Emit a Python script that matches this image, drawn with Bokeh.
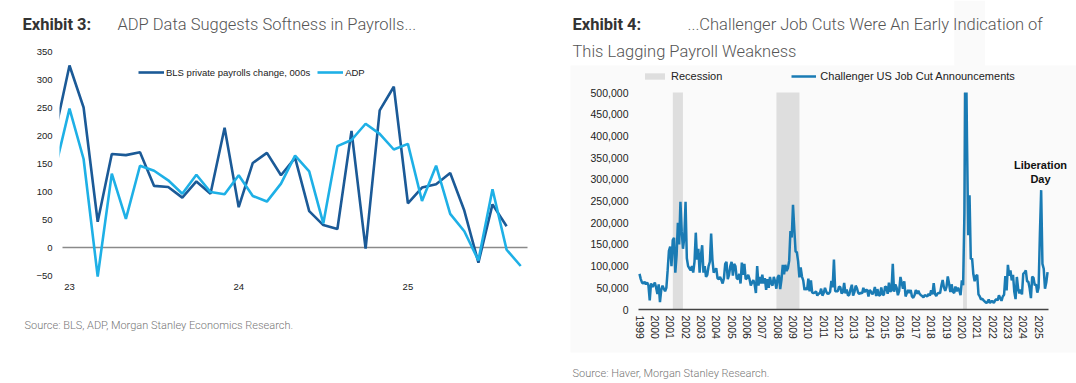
import numpy as np
from bokeh.plotting import figure
from bokeh.layouts import row
from bokeh.models import (Label, Legend, LegendItem, FixedTicker, BoxAnnotation,
                          NumeralTickFormatter, Range1d)
from bokeh.embed import file_html
from bokeh.resources import INLINE

# ---------------- Exhibit 3 data (000s, monthly; index 0 = Jan 2023) ----------------
bls_months = list(range(-1, 32))   # Dec 2022 .. Aug 2025
bls_private = [208, 325, 250, 46, 167, 165, 170, 110, 108, 89, 118, 96,
               214, 72, 151, 169, 129, 160, 65, 40, 33, 208, -2, 245,
               287, 79, 107, 113, 133, 66, -27, 77, 38]
adp_months = list(range(-1, 33))   # Dec 2022 .. Sep 2025
adp_private = [142, 248, 158, -52, 132, 51, 146, 137, 120, 96, 130, 99,
               95, 129, 92, 82, 114, 164, 136, 43, 181, 192, 221, 203,
               175, 185, 83, 146, 60, 29, -23, 104, -4, -33]
ex3_ticks = [0, 12, 24]
ex3_tick_labels = ["23", "24", "25"]
ex3_yticks = [-50, 0, 50, 100, 150, 200, 250, 300, 350]

# ---------------- Exhibit 4 data (Challenger job cuts, thousands, monthly from Jan 1999) ----------------
cuts_1999_2003 = [82, 70, 62, 60, 64, 58, 62, 55, 21, 60, 52, 56,
                  62, 50, 36, 58, 17, 45, 55, 48, 42, 50, 90, 135,
                  145, 100, 160, 165, 85, 125, 200, 150, 248, 180, 140, 165,
                  248, 118, 100, 95, 90, 100, 85, 110, 177, 115, 140, 85,
                  125, 148, 85, 100, 75, 80, 100, 110, 175, 115, 85, 90]
cuts_2004_2008 = [95, 72, 70, 75, 68, 60, 72, 105, 110, 70, 80, 100,
                  110, 78, 105, 100, 72, 70, 82, 60, 108, 80, 105, 70,
                  72, 80, 70, 55, 62, 68, 58, 38, 100, 55, 75, 60,
                  80, 60, 72, 45, 70, 50, 75, 60, 55, 75, 65, 48,
                  74, 79, 47, 69, 103, 81, 103, 89, 95, 112, 181, 166]
cuts_2009_2013 = [241, 186, 134, 132, 111, 74, 97, 76, 67, 45, 50, 45,
                  71, 42, 67, 39, 38, 39, 42, 32, 37, 37, 48, 32,
                  38, 50, 41, 36, 37, 41, 66, 51, 115, 42, 42, 42,
                  53, 51, 37, 40, 61, 37, 46, 32, 34, 47, 57, 32,
                  40, 55, 49, 38, 36, 39, 37, 50, 40, 45, 45, 30]
cuts_2014_2018 = [45, 41, 35, 40, 52, 31, 47, 33, 32, 51, 35, 33,
                  53, 51, 36, 62, 41, 44, 105, 41, 58, 50, 33, 43,
                  75, 61, 48, 65, 30, 38, 45, 38, 45, 30, 27, 33,
                  45, 36, 43, 36, 33, 31, 28, 33, 32, 30, 36, 32,
                  44, 35, 61, 36, 31, 37, 38, 38, 55, 68, 51, 43]
cuts_2019_2023 = [52, 76, 60, 40, 58, 41, 38, 53, 42, 50, 44, 33,
                  67, 56, 222, 671, 397, 171, 263, 116, 118, 81, 65, 77,
                  80, 35, 30, 23, 25, 21, 18, 15, 17, 23, 15, 19,
                  19, 15, 21, 24, 21, 33, 26, 20, 30, 34, 77, 44,
                  103, 78, 90, 67, 80, 41, 24, 75, 48, 37, 46, 35]
cuts_2024_2025 = [82, 85, 90, 65, 64, 49, 26, 76, 73, 56, 58, 39,
                  50, 172, 275, 105, 94, 48, 62, 86]
recession_start = [2001.17, 2007.92, 2020.08]
recession_end = [2001.83, 2009.42, 2020.33]
ex4_years = list(range(1999, 2026))
ex4_yticks = [0, 50000, 100000, 150000, 200000, 250000, 300000, 350000, 400000, 450000, 500000]

cuts = np.array(cuts_1999_2003 + cuts_2004_2008 + cuts_2009_2013 +
                cuts_2014_2018 + cuts_2019_2023 + cuts_2024_2025) * 1000
cut_dates = 1999 + np.arange(len(cuts)) / 12.0

# ---------------- layout geometry (page pixels; canvas starts at page 0,0) ----------------
H = 383
W_L, W_R = 556, 520
PAGE_TOP, PAGE_BOTTOM = 0, H
L_LEFT, R_LEFT = 0, W_L
TICK_FONT = "Liberation Sans"
DARK = "#1b5a97"
LIGHT = "#1eb0e6"
CH_BLUE = "#1a7bb4"

# left chart: Jan-2023 at page x 69, 14.1 px / month; value 0 at page y 247, 0.56 px / unit
def lx(px): return (px - 69) / 14.1
def ly(py): return (247 - py) / 0.56
# right chart: 1999 at page x 639, 15.35 px / year; value 0 at page y 309, 21.7 px / 50,000
def rx(px): return 1999 + (px - 639) / 15.35
def ry(py): return (309 - py) * 50000 / 21.7

L_X0, L_X1, L_Y0, L_Y1 = lx(59), lx(527), -50, 350
R_X0, R_X1, R_Y0, R_Y1 = rx(638), rx(1048), 0, 500000


def base(p):
    p.outline_line_color = None
    p.xgrid.grid_line_color = None
    p.ygrid.grid_line_color = None
    p.border_fill_color = "white"
    p.background_fill_color = "white"
    for ax in (p.xaxis[0], p.yaxis[0]):
        ax.major_tick_line_color = None
        ax.minor_tick_line_color = None
        ax.major_tick_in = 0
        ax.major_tick_out = 0
        ax.major_label_text_font = TICK_FONT


def add_text(p, fig_left, px, py, txt, size, color, font="Roboto", style="normal", align="left"):
    p.add_layout(Label(x=px - fig_left, y=PAGE_BOTTOM - py, x_units="screen", y_units="screen",
                       text=txt, text_font=font, text_font_size=size,
                       text_font_style=style, text_color=color, text_align=align,
                       text_baseline="alphabetic"))


# ---------------- Left: Exhibit 3 ----------------
pl = figure(width=W_L, height=H, output_backend="svg", toolbar_location=None,
            x_range=Range1d(lx(L_LEFT), lx(L_LEFT + W_L)),
            y_range=Range1d(ly(PAGE_BOTTOM), ly(PAGE_TOP)), min_border=0)
base(pl)
pl.yaxis.fixed_location = L_X0
pl.yaxis.bounds = (L_Y0, L_Y1)
pl.yaxis.ticker = FixedTicker(ticks=ex3_yticks)
pl.yaxis.axis_line_color = None
pl.yaxis.major_label_text_font_size = "9.5px"
pl.yaxis.major_label_text_color = "#222222"
pl.yaxis.major_label_standoff = 7
pl.xaxis.fixed_location = L_Y0
pl.xaxis.bounds = (L_X0, L_X1)
pl.xaxis.ticker = FixedTicker(ticks=ex3_ticks)
pl.xaxis.major_label_overrides = {t: l for t, l in zip(ex3_ticks, ex3_tick_labels)}
pl.xaxis.axis_line_color = None
pl.xaxis.major_label_text_font_size = "9.5px"
pl.xaxis.major_label_text_color = "#222222"
pl.xaxis.major_label_standoff = 8

pl.segment(x0=[lx(62)], x1=[L_X1], y0=[0], y1=[0], line_color="#8a8a8a", line_width=1.5)
r_bls = pl.line(bls_months, bls_private, line_color=DARK, line_width=2.6)
r_adp = pl.line(adp_months, adp_private, line_color=LIGHT, line_width=2.6)
# the chart window starts part-way through Dec-2022 -> Jan-2023
pl.add_layout(BoxAnnotation(left=lx(53.5), right=L_X0, bottom=L_Y0, top=L_Y1,
                            fill_color="white", fill_alpha=1, line_color=None))
leg_l = Legend(items=[LegendItem(label="BLS private payrolls change, 000s", renderers=[r_bls]),
                      LegendItem(label="ADP", renderers=[r_adp])],
               orientation="horizontal", location=(138 - L_LEFT, PAGE_BOTTOM - 78),
               glyph_width=26, glyph_height=12, label_height=12, label_standoff=2, spacing=7,
               padding=0, margin=0, border_line_color=None, background_fill_alpha=0,
               label_text_font=TICK_FONT, label_text_font_size="9.5px", label_text_color="#222222")
pl.add_layout(leg_l)

add_text(pl, L_LEFT, 22, 24, "Exhibit 3:", "16.5px", "#333333", style="bold")
add_text(pl, L_LEFT, 117, 24, "ADP Data Suggests Softness in Payrolls...", "16.5px", "#555555", font="Roboto Light")
add_text(pl, L_LEFT, 24, 325, "Source: BLS, ADP, Morgan Stanley Economics Research.", "11px", "#777777", font="Roboto Light")

# ---------------- Right: Exhibit 4 ----------------
pr = figure(width=W_R, height=H, output_backend="svg", toolbar_location=None,
            x_range=Range1d(rx(R_LEFT), rx(R_LEFT + W_R)),
            y_range=Range1d(ry(PAGE_BOTTOM), ry(PAGE_TOP)), min_border=0)
base(pr)
pr.add_layout(BoxAnnotation(left=rx(570), top=ry(65), bottom=ry(352), fill_color="#fafafa",
                            fill_alpha=1, line_color=None, level="underlay"))
pr.yaxis.fixed_location = R_X0
pr.yaxis.bounds = (R_Y0, R_Y1)
pr.yaxis.ticker = FixedTicker(ticks=ex4_yticks)
pr.yaxis.formatter = NumeralTickFormatter(format="0,0")
pr.yaxis.axis_line_color = None
pr.yaxis.major_label_text_font_size = "10.5px"
pr.yaxis.major_label_text_color = "#222222"
pr.yaxis.major_label_standoff = 10
pr.xaxis.fixed_location = R_Y0
pr.xaxis.bounds = (R_X0, R_X1)
pr.xaxis.ticker = FixedTicker(ticks=ex4_years)
pr.xaxis.major_label_orientation = "vertical"
pr.xaxis.axis_line_color = "#444444"
pr.xaxis.axis_line_width = 1.5
pr.xaxis.major_label_text_font_size = "10.5px"
pr.xaxis.major_label_text_color = "#222222"
pr.xaxis.major_label_standoff = 6

r_rec = pr.quad(left=recession_start, right=recession_end, bottom=R_Y0, top=R_Y1,
                fill_color="#dedede", line_color=None)
r_cut = pr.line(cut_dates, cuts, line_color=CH_BLUE, line_width=2.5)
# values above the 500,000 axis maximum are cut off at the chart's top
pr.add_layout(BoxAnnotation(left=2019.5, right=2021.5, bottom=R_Y1, fill_color="#fafafa",
                            fill_alpha=1, line_color=None))
leg_r = Legend(items=[LegendItem(label="Recession", renderers=[r_rec]),
                      LegendItem(label="Challenger US Job Cut Announcements", renderers=[r_cut])],
               orientation="horizontal", location=(642 - R_LEFT, PAGE_BOTTOM - 82),
               glyph_width=25, glyph_height=8, label_height=12, label_standoff=4, spacing=69,
               padding=0, margin=0, border_line_color=None, background_fill_alpha=0,
               label_text_font=TICK_FONT, label_text_font_size="11px", label_text_color="#222222")
pr.add_layout(leg_r)

add_text(pr, R_LEFT, 1040, 164, "Liberation", "11px", "#111111", font=TICK_FONT, style="bold", align="center")
add_text(pr, R_LEFT, 1040, 178, "Day", "11px", "#111111", font=TICK_FONT, style="bold", align="center")
add_text(pr, R_LEFT, 572, 24, "Exhibit 4:", "16.5px", "#333333", style="bold")
add_text(pr, R_LEFT, 687, 24, "...Challenger Job Cuts Were An Early Indication of", "16.5px", "#555555", font="Roboto Light")
add_text(pr, R_LEFT, 572, 51, "This Lagging Payroll Weakness", "16.5px", "#555555", font="Roboto Light")
add_text(pr, R_LEFT, 572, 373, "Source: Haver, Morgan Stanley Research.", "11px", "#777777", font="Roboto Light")

layout = row(pl, pr)
open("out.html", "w").write(file_html(layout, INLINE))
